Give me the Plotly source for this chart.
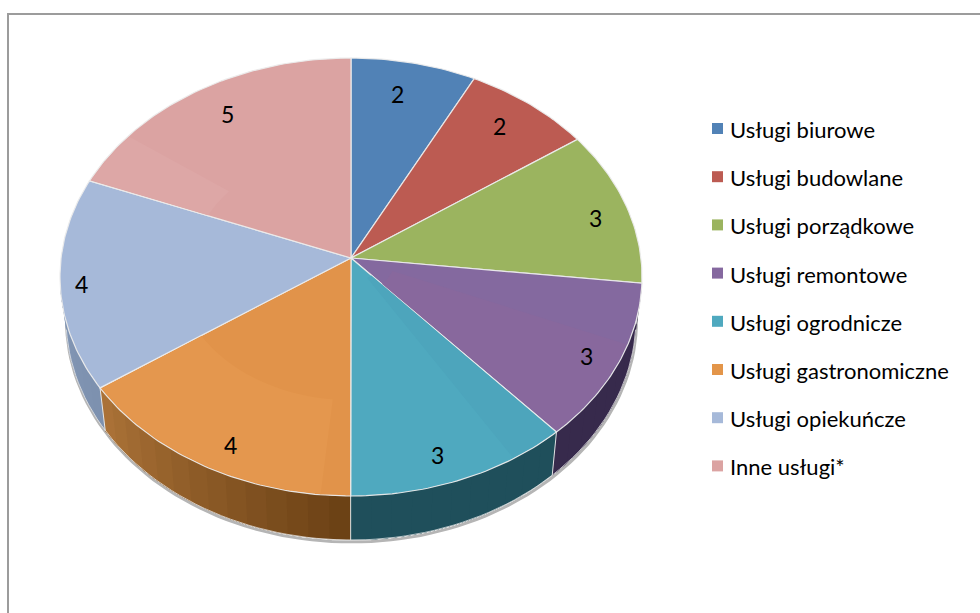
import math
import plotly.graph_objects as go

# ---- data ----
CATEGORIES = ["Usługi biurowe", "Usługi budowlane", "Usługi porządkowe", "Usługi remontowe",
              "Usługi ogrodnicze", "Usługi gastronomiczne", "Usługi opiekuńcze", "Inne usługi*"]
VALUES = [1.81, 1.88, 2.93, 3.14, 3.25, 4.30, 4.08, 4.62]
LABELS = ["2", "2", "3", "3", "3", "4", "4", "5"]

# ---- styles ----
TOP_COLORS = ["#5182b6", "#bc5b52", "#9bb45f", "#84699f", "#4fa9bf", "#e1934a", "#a6b9d9", "#dba3a2"]
LEGEND_COLORS = ["#5182b6", "#bc5b52", "#9bb45f", "#85689f", "#4fa9bf", "#e39549", "#a6b9d9", "#dba3a2"]
SIDE_START = ["#3a5e85", "#8a423c", "#71833f", "#372a4c", "#1f4f5b", "#6a4014", "#7c90ae", "#a07777"]
SIDE_END = ["#3a5e85", "#8a423c", "#71833f", "#372a4c", "#1f4f5b", "#ac7338", "#8599b7", "#a07777"]
LABEL_NUDGE = [(-4, -8), (5, -9), (23.5, 1), (22, 13.5), (-2, 20), (-5, 20), (-37, 4), (0, -11)]
# faint lighting facets on the top: start angle, end angle, inner radius fraction, colour
SHEEN = [(296.3, 310, 0.55, "#dda7a6"), (186, 239.3, 0.6, "#e4974e"),
         (135.3, 146, 0.1, "#4da5bc"), (108, 134.7, 0.15, "#88689d")]
FONT = "Lato, 'Open Sans', sans-serif"
EDGE = "rgba(235,235,235,0.95)"

# ---- projection of the tilted disc ----
APEX = (351, 258)
TOP = dict(cx=351, cy=277, rx=291, ry=219)
BOTTOM = dict(cx=351, cy=318, rx=285, ry=222)


def rim(e, t):
    a = math.radians(t)
    return e["cx"] + e["rx"] * math.sin(a), e["cy"] - e["ry"] * math.cos(a)


def hex_mix(c0, c1, f):
    p = [int(c0[i:i + 2], 16) for i in (1, 3, 5)]
    q = [int(c1[i:i + 2], 16) for i in (1, 3, 5)]
    return "#%02x%02x%02x" % tuple(round(a + (b - a) * f) for a, b in zip(p, q))


total = sum(VALUES)
edges = [0.0]
for v in VALUES:
    edges.append(edges[-1] + v / total * 360)

fig = go.Figure()

# soft shadow below the wall
sx, sy = zip(*[rim(BOTTOM, t) for t in range(88, 273, 2)])
fig.add_trace(go.Scatter(x=[a + 0.5 for a in sx], y=[b + 2 for b in sy], mode="lines",
                         line=dict(color="#b5b5b5", width=3), showlegend=False, hoverinfo="skip"))

# wall of the disc, painted as overlapping strips so the shade can change along it
for i, (t0, t1) in enumerate(zip(edges[:-1], edges[1:])):
    a, b = max(t0, 90), min(t1, 270)
    if b <= a:
        continue
    n = max(1, int((b - a) / 4))
    for k in range(n):
        s0 = a + (b - a) * k / n
        ts = [s0 + (b - s0) * j / 16 for j in range(17)]
        pts = [rim(TOP, t) for t in ts] + [rim(BOTTOM, t) for t in reversed(ts)]
        col = hex_mix(SIDE_START[i], SIDE_END[i], (k + 0.5) / n)
        fig.add_trace(go.Scatter(x=[p[0] for p in pts], y=[p[1] for p in pts], fill="toself",
                                 fillcolor=col, mode="none",
                                 showlegend=False, hoverinfo="skip"))

# wall seams
for t in edges[1:-1]:
    if 90 < t < 270:
        p, q = rim(TOP, t), rim(BOTTOM, t)
        fig.add_trace(go.Scatter(x=[p[0], q[0]], y=[p[1], q[1]], mode="lines",
                                 line=dict(color=EDGE, width=1), showlegend=False, hoverinfo="skip"))
bx, by = zip(*[rim(BOTTOM, t) for t in range(93, 268, 2)])
fig.add_trace(go.Scatter(x=bx, y=by, mode="lines", line=dict(color=EDGE, width=0.8),
                         showlegend=False, hoverinfo="skip"))

# top faces
for i, (t0, t1) in enumerate(zip(edges[:-1], edges[1:])):
    n = max(2, int(t1 - t0))
    pts = [APEX] + [rim(TOP, t0 + (t1 - t0) * j / n) for j in range(n + 1)] + [APEX]
    fig.add_trace(go.Scatter(x=[p[0] for p in pts], y=[p[1] for p in pts], fill="toself",
                             fillcolor=TOP_COLORS[i], mode="lines", line=dict(color=EDGE, width=1.2),
                             name=CATEGORIES[i], showlegend=False,
                             hovertemplate=CATEGORIES[i] + ": " + LABELS[i] + "<extra></extra>"))

# lighting facets
for t0, t1, frac, col in SHEEN:
    ts = [t0 + (t1 - t0) * j / 24 for j in range(25)]
    outer = [rim(TOP, t) for t in ts]
    outer = [(APEX[0] + 0.995 * (p[0] - APEX[0]), APEX[1] + 0.995 * (p[1] - APEX[1])) for p in outer]
    inner = [(APEX[0] + frac * (p[0] - APEX[0]), APEX[1] + frac * (p[1] - APEX[1])) for p in reversed(outer)]
    pts = outer + inner
    fig.add_trace(go.Scatter(x=[p[0] for p in pts], y=[p[1] for p in pts], fill="toself",
                             fillcolor=col, mode="none", showlegend=False, hoverinfo="skip"))

# value labels
annotations = []
for i, (t0, t1) in enumerate(zip(edges[:-1], edges[1:])):
    rx_, ry_ = rim(TOP, (t0 + t1) / 2)
    annotations.append(dict(x=APEX[0] + 0.8 * (rx_ - APEX[0]), y=APEX[1] + 0.8 * (ry_ - APEX[1]),
                            text=LABELS[i], showarrow=False, xshift=LABEL_NUDGE[i][0],
                            yshift=-LABEL_NUDGE[i][1], font=dict(family=FONT, size=23, color="#000000")))

# legend column
LEG_X, LEG_Y0, LEG_DY, LEG_TEXT_X = 717.5, 128.5, 48.2, 728
for i, name in enumerate(CATEGORIES):
    fig.add_trace(go.Scatter(x=[LEG_X], y=[LEG_Y0 + i * LEG_DY], mode="markers", name=name, showlegend=False,
                             marker=dict(symbol="square", size=11, color=LEGEND_COLORS[i]), hoverinfo="skip"))
    annotations.append(dict(x=LEG_TEXT_X, y=LEG_Y0 + i * LEG_DY + 1, text=name, showarrow=False, xanchor="left",
                            font=dict(family=FONT, size=22, color="#000000")))

# chart frame
shapes = [dict(type="rect", xref="x", yref="y", x0=8, y0=14, x1=1100, y1=800,
               line=dict(color="#9c9c9c", width=2), layer="below")]

fig.update_layout(width=980, height=613, margin=dict(l=0, r=0, t=0, b=0), autosize=False,
                  paper_bgcolor="white", plot_bgcolor="white", showlegend=False,
                  xaxis=dict(range=[0, 980], visible=False, fixedrange=True),
                  yaxis=dict(range=[613, 0], visible=False, fixedrange=True),
                  annotations=annotations, shapes=shapes, font=dict(family=FONT))
fig.write_html("out.html", config=dict(displayModeBar=False),
               post_script="document.body.style.margin='0';document.body.style.overflow='hidden';window.dispatchEvent(new Event('resize'));")
